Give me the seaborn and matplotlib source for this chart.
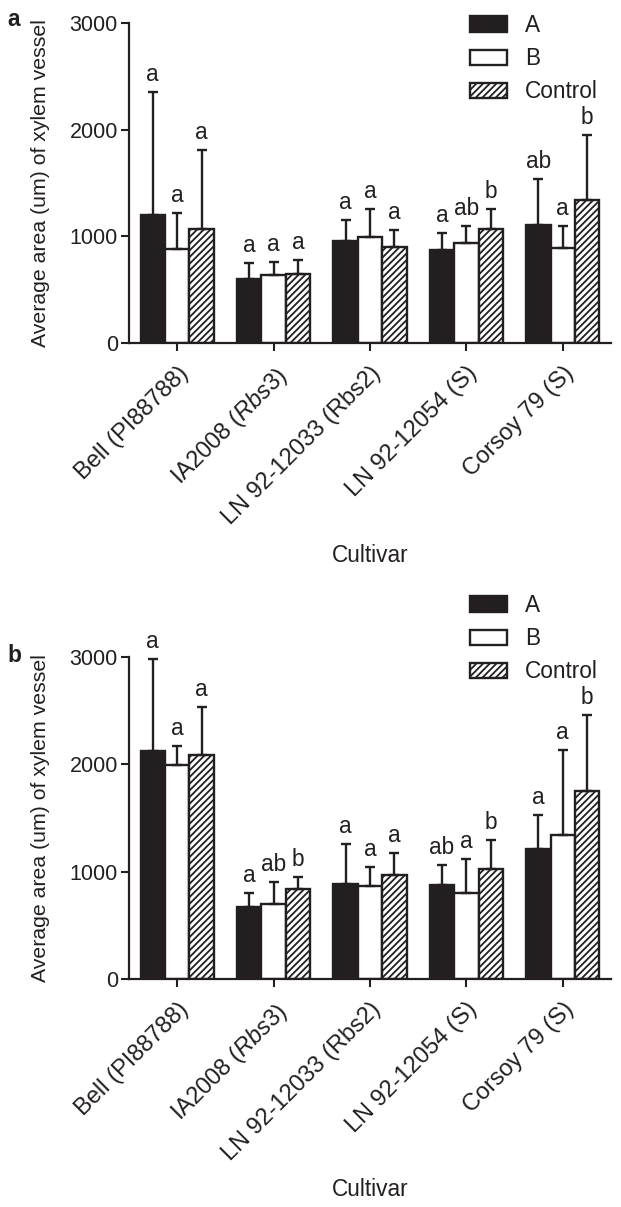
import numpy as np
import pandas as pd
import matplotlib
matplotlib.use("Agg")
import matplotlib.pyplot as plt
import matplotlib.transforms as mtransforms
import seaborn as sns

# ---------------- data ----------------
cultivars = ["Bell (PI88788)", "IA2008 ($\\it{Rbs3}$)", "LN 92-12033 (Rbs2)",
             "LN 92-12054 (S)", "Corsoy 79 (S)"]
treatments = ["A", "B", "Control"]

# panel a: means and upper error-bar tops (per treatment, per cultivar)
a_mean_A = [1200, 597, 959, 872, 1106]
a_mean_B = [878, 638, 991, 941, 894]
a_mean_C = [1072, 647, 903, 1072, 1341]
a_top_A = [2350, 753, 1153, 1034, 1537]
a_top_B = [1222, 763, 1256, 1097, 1097]
a_top_C = [1810, 781, 1059, 1253, 1950]
a_let_A = ["a", "a", "a", "a", "ab"]
a_let_B = ["a", "a", "a", "ab", "a"]
a_let_C = ["a", "a", "a", "b", "b"]

# panel b
b_mean_A = [2126, 668, 883, 877, 1209]
b_mean_B = [1996, 696, 867, 799, 1340]
b_mean_C = [2083, 839, 970, 1029, 1756]
b_top_A = [2984, 799, 1260, 1060, 1529]
b_top_B = [2173, 907, 1041, 1116, 2136]
b_top_C = [2537, 948, 1172, 1296, 2462]
b_let_A = ["a", "a", "a", "ab", "a"]
b_let_B = ["a", "ab", "a", "a", "a"]
b_let_C = ["a", "b", "a", "b", "b"]

y_ticks = [0, 1000, 2000, 3000]
y_label = "Average area (um) of xylem vessel"
x_label = "Cultivar"

# ---------------- style ----------------
sns.set_style("ticks")
plt.rcParams["font.family"] = ["Liberation Sans", "DejaVu Sans"]
plt.rcParams["mathtext.fontset"] = "custom"
plt.rcParams["mathtext.it"] = "Liberation Sans:italic"
plt.rcParams["mathtext.rm"] = "Liberation Sans"
plt.rcParams["hatch.linewidth"] = 1.3
INK = "#231f20"
plt.rcParams["hatch.color"] = INK
FS = 16.3      # general text
FS_X = 17.0    # x tick labels
FS_Y = 15.5    # y tick numbers
FS_YL = 15.3   # y label

W, H = 621, 1207
fig = plt.figure(figsize=(W / 100, H / 100), dpi=100)


def px_axes(left, top, right, bottom):
    return fig.add_axes([left / W, 1 - bottom / H, (right - left) / W, (bottom - top) / H])


def panel(ax, means, tops, letters, tag, tag_xy, leg_xy, xlabel_y):
    rows = []
    for t, m in zip(treatments, means):
        for c, v in zip(cultivars, m):
            rows.append({"Cultivar": c, "Treatment": t, "value": v})
    df = pd.DataFrame(rows)
    sns.barplot(data=df, x="Cultivar", y="value", hue="Treatment",
                order=cultivars, hue_order=treatments,
                palette=[INK, "white", "white"], width=0.76,
                edgecolor=INK, linewidth=1.7, errorbar=None,
                saturation=1, ax=ax, legend=False)
    bar_conts = list(ax.containers)
    for k, cont in enumerate(bar_conts):
        for j, bar in enumerate(cont):
            if k == 2:
                bar.set_hatch("/////")
            x = bar.get_x() + bar.get_width() / 2
            m = means[k][j]
            top = tops[k][j]
            ax.errorbar([x], [m], yerr=[[0], [top - m]], fmt="none",
                        ecolor=INK, elinewidth=1.7, capsize=3.3, capthick=1.7,
                        zorder=1, clip_on=False)
            ax.text(x, top + 55, letters[k][j], ha="center", va="bottom",
                    fontsize=FS, color=INK, clip_on=False)
    ax.set_ylim(0, 3000)
    ax.set_xlim(-0.5, 4.5)
    ax.set_yticks(y_ticks)
    ax.set_yticklabels([str(v) for v in y_ticks], fontsize=FS_Y, color=INK)
    ax.set_xticks(range(len(cultivars)))
    ax.set_xticklabels(cultivars, rotation=45, ha="right",
                       rotation_mode="anchor", fontsize=FS_X, color=INK)
    offset = mtransforms.ScaledTranslation(3 / 100, 0, fig.dpi_scale_trans)
    for lab in ax.get_xticklabels():
        lab.set_transform(lab.get_transform() + offset)
    ax.tick_params(axis="y", width=1.5, length=6, color=INK, pad=2)
    ax.tick_params(axis="x", width=1.5, length=6, color=INK, pad=8)
    for s in ["left", "bottom"]:
        ax.spines[s].set_linewidth(1.6)
        ax.spines[s].set_color(INK)
    sns.despine(ax=ax)
    ax.set_xlabel("")
    ax.set_ylabel(y_label, fontsize=FS_YL, color=INK)
    ax.yaxis.set_label_coords((50 - 129) / 482, 0.5)
    fig.text(370 / W, 1 - xlabel_y / H, x_label, ha="center", va="center",
             fontsize=FS, color=INK)
    fig.text(tag_xy[0] / W, 1 - tag_xy[1] / H, tag, ha="left", va="center",
             fontsize=FS, fontweight="bold", color=INK)
    handles = [c.patches[0] for c in bar_conts]
    ax.legend(handles, treatments, loc="upper left",
              bbox_to_anchor=(leg_xy[0] / W, 1 - leg_xy[1] / H),
              bbox_transform=fig.transFigure, frameon=False, fontsize=FS,
              handlelength=1.64, handleheight=0.66, handletextpad=0.8,
              labelspacing=0.45, borderpad=0, borderaxespad=0,
              labelcolor=INK)


ax_a = px_axes(129, 23, 611, 343)
panel(ax_a, [a_mean_A, a_mean_B, a_mean_C], [a_top_A, a_top_B, a_top_C],
      [a_let_A, a_let_B, a_let_C], "a", (7, 19), (470, 14), 556)

ax_b = px_axes(129, 657, 611, 979)
panel(ax_b, [b_mean_A, b_mean_B, b_mean_C], [b_top_A, b_top_B, b_top_C],
      [b_let_A, b_let_B, b_let_C], "b", (7, 656), (470, 594), 1190)

fig.savefig("out.png", dpi=100)
